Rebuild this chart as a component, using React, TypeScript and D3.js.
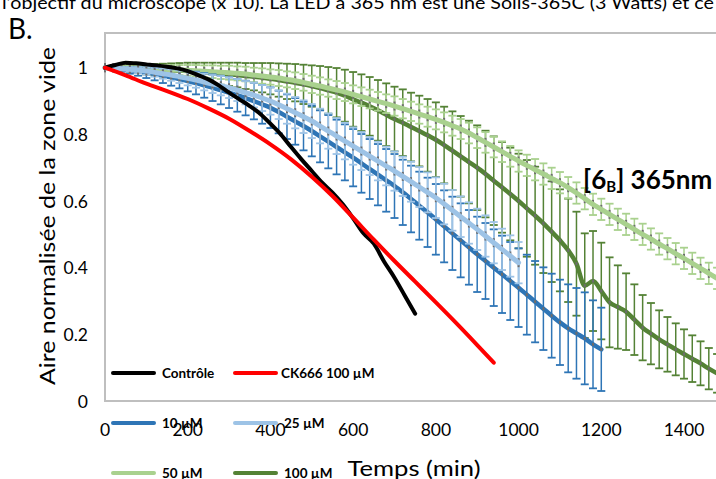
import React from "react";
import * as d3 from "d3";

const FONT = "Lato, 'Open Sans', sans-serif";

// ---------- data ----------
const xTicks = [0, 200, 400, 600, 800, 1000, 1200, 1400];
const yTicks = [0, 0.2, 0.4, 0.6, 0.8, 1];
const yTickLabels = ["0", "0.2", "0.4", "0.6", "0.8", "1"];

const timesGreen = d3.range(0, 1481, 20);
const timesBlue10 = d3.range(0, 1201, 20);
const timesBlue25 = d3.range(0, 1001, 20);
const timesControl = d3.range(0, 751, 25);
const timesCK = [0, 50, 100, 150, 200, 250, 300, 350, 400, 450, 500, 550, 600, 650, 700, 750, 800, 850, 900, 940];

const control = [1.0, 1.008, 1.015, 1.013, 1.01, 1.007, 1.003, 0.998, 0.99, 0.978, 0.965, 0.947, 0.925, 0.905, 0.885, 0.862, 0.832, 0.8, 0.762, 0.725, 0.69, 0.655, 0.625, 0.59, 0.548, 0.503, 0.472, 0.418, 0.37, 0.316, 0.262];

const ck666 = [1.0, 0.977, 0.952, 0.93, 0.906, 0.878, 0.847, 0.81, 0.77, 0.725, 0.673, 0.615, 0.55, 0.484, 0.42, 0.358, 0.296, 0.233, 0.168, 0.115];

const uM100 = [
  1.0, 1.0, 0.999, 0.998, 0.997, 0.995, 0.994, 0.993, 0.992, 0.991,
  0.99, 0.988, 0.986, 0.984, 0.982, 0.98, 0.978, 0.975, 0.973, 0.97,
  0.967, 0.963, 0.959, 0.955, 0.95, 0.945, 0.939, 0.932, 0.925, 0.916,
  0.905, 0.895, 0.884, 0.872, 0.859, 0.846, 0.835, 0.822, 0.81, 0.797,
  0.784, 0.768, 0.751, 0.734, 0.717, 0.7, 0.681, 0.661, 0.641, 0.621,
  0.6, 0.578, 0.556, 0.533, 0.508, 0.482, 0.452, 0.412, 0.346, 0.36,
  0.33, 0.296, 0.282, 0.268, 0.244, 0.22, 0.202, 0.185, 0.17, 0.155,
  0.141, 0.127, 0.113, 0.097, 0.083,
];
const uM100Err = [
  0, 0.004, 0.007, 0.01, 0.012, 0.015, 0.017, 0.019, 0.021, 0.023,
  0.025, 0.027, 0.029, 0.031, 0.033, 0.035, 0.037, 0.039, 0.041, 0.044,
  0.047, 0.05, 0.053, 0.056, 0.059, 0.062, 0.066, 0.07, 0.074, 0.078,
  0.082, 0.085, 0.088, 0.091, 0.094, 0.097, 0.1, 0.103, 0.106, 0.109,
  0.112, 0.115, 0.118, 0.121, 0.124, 0.127, 0.13, 0.133, 0.136, 0.139,
  0.142, 0.145, 0.147, 0.149, 0.151, 0.153, 0.155, 0.156, 0.157, 0.15,
  0.145, 0.135, 0.125, 0.115, 0.106, 0.098, 0.092, 0.087, 0.082, 0.078,
  0.074, 0.07, 0.066, 0.062, 0.058,
];

const uM50 = [
  1.0, 1.0, 0.999, 0.999, 0.998, 0.997, 0.996, 0.995, 0.994, 0.993,
  0.992, 0.991, 0.989, 0.988, 0.986, 0.985, 0.983, 0.981, 0.978, 0.975,
  0.972, 0.969, 0.965, 0.961, 0.956, 0.95, 0.945, 0.939, 0.933, 0.927,
  0.92, 0.913, 0.906, 0.899, 0.892, 0.885, 0.877, 0.869, 0.861, 0.853,
  0.845, 0.836, 0.826, 0.816, 0.804, 0.79, 0.776, 0.762, 0.748, 0.734,
  0.72, 0.707, 0.694, 0.681, 0.668, 0.655, 0.64, 0.624, 0.607, 0.59,
  0.575, 0.56, 0.545, 0.53, 0.515, 0.5, 0.486, 0.471, 0.457, 0.442,
  0.428, 0.413, 0.398, 0.383, 0.368,
];
const uM50Err = [
  0, 0.003, 0.005, 0.007, 0.009, 0.011, 0.012, 0.013, 0.014, 0.015,
  0.016, 0.017, 0.018, 0.019, 0.02, 0.021, 0.021, 0.022, 0.022, 0.023,
  0.023, 0.024, 0.024, 0.025, 0.025, 0.026, 0.026, 0.026, 0.027, 0.027,
  0.027, 0.028, 0.028, 0.028, 0.028, 0.029, 0.029, 0.029, 0.029, 0.03,
  0.03, 0.03, 0.03, 0.03, 0.031, 0.031, 0.031, 0.031, 0.031, 0.031,
  0.032, 0.032, 0.032, 0.032, 0.032, 0.032, 0.032, 0.032, 0.032, 0.032,
  0.032, 0.032, 0.032, 0.032, 0.032, 0.032, 0.032, 0.032, 0.032, 0.032,
  0.032, 0.032, 0.032, 0.032, 0.032,
];

const uM10 = [
  1.0, 0.998, 0.995, 0.992, 0.989, 0.985, 0.981, 0.976, 0.971, 0.966,
  0.96, 0.954, 0.947, 0.94, 0.933, 0.925, 0.917, 0.909, 0.9, 0.89,
  0.88, 0.867, 0.853, 0.839, 0.825, 0.81, 0.794, 0.778, 0.762, 0.746,
  0.73, 0.713, 0.696, 0.679, 0.662, 0.645, 0.626, 0.606, 0.586, 0.566,
  0.545, 0.524, 0.503, 0.482, 0.461, 0.44, 0.42, 0.4, 0.38, 0.36,
  0.34, 0.319, 0.298, 0.277, 0.256, 0.236, 0.218, 0.203, 0.188, 0.17,
  0.155,
];
const uM10Err = [
  0, 0.004, 0.007, 0.01, 0.013, 0.016, 0.019, 0.022, 0.025, 0.028,
  0.031, 0.034, 0.037, 0.04, 0.043, 0.046, 0.049, 0.052, 0.055, 0.058,
  0.061, 0.064, 0.067, 0.07, 0.073, 0.076, 0.078, 0.08, 0.082, 0.084,
  0.086, 0.088, 0.09, 0.092, 0.094, 0.096, 0.098, 0.1, 0.102, 0.104,
  0.106, 0.108, 0.11, 0.111, 0.112, 0.113, 0.114, 0.115, 0.116, 0.117,
  0.118, 0.12, 0.122, 0.124, 0.126, 0.128, 0.132, 0.136, 0.138, 0.132,
  0.125,
];

const uM25 = [
  1.0, 0.999, 0.997, 0.995, 0.993, 0.99, 0.986, 0.982, 0.978, 0.973,
  0.968, 0.963, 0.957, 0.951, 0.946, 0.94, 0.933, 0.925, 0.918, 0.909,
  0.9, 0.889, 0.877, 0.865, 0.853, 0.84, 0.825, 0.81, 0.795, 0.78,
  0.765, 0.75, 0.735, 0.72, 0.705, 0.69, 0.674, 0.658, 0.642, 0.626,
  0.61, 0.591, 0.572, 0.553, 0.534, 0.515, 0.495, 0.475, 0.455, 0.435,
  0.415,
];
const uM25Err = [
  0, 0.003, 0.005, 0.007, 0.009, 0.011, 0.013, 0.015, 0.017, 0.019,
  0.021, 0.023, 0.025, 0.027, 0.029, 0.031, 0.033, 0.035, 0.037, 0.039,
  0.041, 0.043, 0.045, 0.047, 0.049, 0.051, 0.052, 0.053, 0.054, 0.055,
  0.056, 0.057, 0.057, 0.058, 0.058, 0.059, 0.059, 0.06, 0.06, 0.06,
  0.061, 0.061, 0.061, 0.061, 0.062, 0.062, 0.062, 0.062, 0.062, 0.062,
  0.062,
];

const legendLabels = ["Contrôle", "CK666 100 µM", "10 µM", "25 µM", "50 µM", "100 µM"];
const legendColors = ["#000000", "#FF0000", "#2E75B6", "#9DC3E6", "#A9D18E", "#548235"];

// ---------- layout ----------
const W = 716;
const H = 479;
const x = d3.scaleLinear().domain([0, 1400]).range([105, 684]);
const y = d3.scaleLinear().domain([0, 1]).range([401, 67.7]);

type Series = {
  t: number[];
  v: number[];
  err?: number[];
  color: string;
  width: number;
  light?: boolean;
};

const errSeries: Series[] = [
  { t: timesGreen, v: uM100, err: uM100Err, color: "#548235", width: 4.5 },
  { t: timesGreen, v: uM50, err: uM50Err, color: "#A9D18E", width: 5, light: true },
  { t: timesBlue10, v: uM10, err: uM10Err, color: "#2E75B6", width: 4.5 },
  { t: timesBlue25, v: uM25, err: uM25Err, color: "#9DC3E6", width: 5, light: true },
];

const plainSeries: Series[] = [
  { t: timesControl, v: control, color: "#000000", width: 4 },
  { t: timesCK, v: ck666, color: "#FF0000", width: 4 },
];

const lineGen = d3
  .line<[number, number]>()
  .x((d) => x(d[0]))
  .y((d) => y(d[1]))
  .curve(d3.curveMonotoneX);

function pts(s: Series): [number, number][] {
  return s.t.map((t, i) => [t, s.v[i]] as [number, number]);
}

function ErrorSeries({ s }: { s: Series }) {
  const cap = 4;
  return (
    <g>
      <g stroke={s.color} strokeWidth={1.5} fill="none">
        {s.t.map((t, i) => {
          const e = s.err ? s.err[i] : 0;
          if (!e) return null;
          const cx = x(t);
          const y1 = y(s.v[i] + e);
          const y2 = y(s.v[i] - e);
          return (
            <g key={i}>
              <line x1={cx} x2={cx} y1={y1} y2={y2} />
              <line x1={cx - cap} x2={cx + cap} y1={y1} y2={y1} strokeWidth={1.8} />
              <line x1={cx - cap} x2={cx + cap} y1={y2} y2={y2} strokeWidth={1.8} />
            </g>
          );
        })}
      </g>
      {s.light &&
        s.t.map((t, i) => (
          <rect key={"m" + i} x={x(t) - 1} y={y(s.v[i]) - 4.5} width={2} height={9} fill="#6d6d6d" />
        ))}
      <path d={lineGen(pts(s)) || ""} fill="none" stroke={s.color} strokeWidth={s.width} strokeLinejoin="round" strokeLinecap="round" />
      {!s.light &&
        s.t.map((t, i) => (
          <rect key={"n" + i} x={x(t) - 1} y={y(s.v[i]) - 1.5} width={2} height={3} fill="#6d6d6d" />
        ))}
    </g>
  );
}

export default function App() {
  const legendPos = [
    [113, 373, 162],
    [235, 373, 281],
    [113, 423, 162],
    [235, 423, 284],
    [113, 473, 162],
    [235, 473, 284],
  ];
  return (
    <svg
      width={W}
      height={H}
      viewBox={`0 0 ${W} ${H}`}
      style={{ position: "absolute", left: 0, top: 0, background: "#fff" }}
      fontFamily={FONT}
    >
      <rect x={0} y={0} width={W} height={H} fill="#fff" />
      {/* cut-off paragraph text */}
      <text x={2} y={9} fontSize={17} fill="#000" textLength={712} lengthAdjust="spacingAndGlyphs">
        l’objectif du microscope (x 10). La LED à 365 nm est une Solis-365C (3 Watts) et ce
      </text>
      <text x={8} y={39} fontSize={28} fill="#000">
        B.
      </text>

      {/* plot frame */}
      <rect x={105} y={33} width={W} height={368} fill="none" stroke="#BFBFBF" strokeWidth={2} />

      {/* y ticks */}
      {yTicks.map((v, i) => (
        <text key={v} x={88} y={y(v)} fontSize={17.5} textAnchor="end" dominantBaseline="central" fill="#000">
          {yTickLabels[i]}
        </text>
      ))}
      {/* x ticks */}
      {xTicks.map((t) => (
        <text key={t} x={x(t)} y={429} fontSize={17.5} textAnchor="middle" dominantBaseline="central" fill="#000">
          {t}
        </text>
      ))}

      {/* axis titles */}
      <text
        transform={`translate(46,216) rotate(-90)`}
        fontSize={21}
        textAnchor="middle"
        dominantBaseline="central"
        textLength={338}
        lengthAdjust="spacingAndGlyphs"
        fill="#000"
      >
        Aire normalisée de la zone vide
      </text>
      <text x={414} y={467} fontSize={22} textAnchor="middle" dominantBaseline="central" textLength={133} lengthAdjust="spacingAndGlyphs" fill="#000">
        Temps (min)
      </text>

      {/* series */}
      {errSeries.map((s, i) => (
        <ErrorSeries key={i} s={s} />
      ))}
      {plainSeries.map((s, i) => (
        <path key={i} d={lineGen(pts(s)) || ""} fill="none" stroke={s.color} strokeWidth={s.width} strokeLinejoin="round" strokeLinecap="round" />
      ))}

      {/* annotation */}
      <text x={583} y={189} fontSize={26} fontWeight="bold" fill="#000">
        [6<tspan fontSize={15} dy={3}>B</tspan>
        <tspan dy={-3}>] 365nm</tspan>
      </text>

      {/* legend */}
      {legendLabels.map((lab, i) => {
        const [lx, ly, tx] = legendPos[i];
        return (
          <g key={lab}>
            <line x1={lx} x2={lx + 41} y1={ly} y2={ly} stroke={legendColors[i]} strokeWidth={4} strokeLinecap="round" />
            <text x={tx} y={ly} fontSize={13.5} fontWeight="bold" dominantBaseline="central" fill="#000">
              {lab}
            </text>
          </g>
        );
      })}
    </svg>
  );
}
